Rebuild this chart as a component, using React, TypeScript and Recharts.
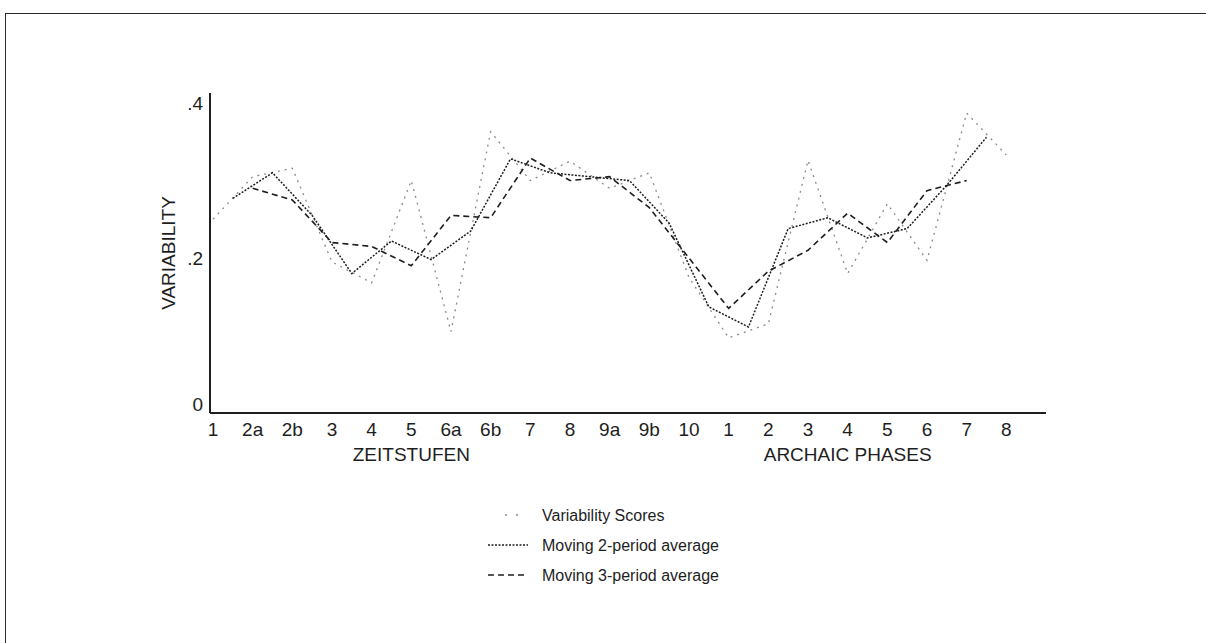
import React from 'react';
import { LineChart, Line, XAxis, YAxis, Legend } from 'recharts';

// Period labels along the x-axis (Zeitstufen followed by Archaic phases)
const categories = ['1', '2a', '2b', '3', '4', '5', '6a', '6b', '7', '8', '9a', '9b', '10', '1', '2', '3', '4', '5', '6', '7', '8'];
const groupTicks = [5, 16];
const groupLabels = ['ZEITSTUFEN', 'ARCHAIC PHASES'];
const yTicks = [0, 0.2, 0.4];
const yTickLabels = ['0', '.2', '.4'];

// Variability score per period
const scores = [0.25, 0.305, 0.316, 0.195, 0.168, 0.3, 0.105, 0.363, 0.3, 0.325, 0.29, 0.31, 0.175, 0.097, 0.115, 0.326, 0.18, 0.27, 0.197, 0.387, 0.333];
// Moving 2-period average (between consecutive periods)
const movingAvg2 = [0.277, 0.31, 0.255, 0.18, 0.222, 0.198, 0.235, 0.328, 0.31, 0.305, 0.3, 0.245, 0.137, 0.111, 0.238, 0.252, 0.226, 0.238, 0.294, 0.356];
// Moving 3-period average (centred, periods 2..20)
const movingAvg3 = [0.29, 0.275, 0.22, 0.215, 0.19, 0.255, 0.252, 0.329, 0.3, 0.305, 0.265, 0.2, 0.135, 0.183, 0.21, 0.258, 0.22, 0.287, 0.3];

const legendLabels = ['Variability Scores', 'Moving 2-period average', 'Moving 3-period average'];

const scoreData = scores.map((v, i) => ({ x: i, v }));
const avg2Data = movingAvg2.map((v, i) => ({ x: i + 0.5, v }));
const avg3Data = movingAvg3.map((v, i) => ({ x: i + 1, v }));

const INK = '#1e1e1e';
const FONT = '"Liberation Sans", Arial, Helvetica, sans-serif';

const YTick = (props: any) => {
  const { x, y, payload } = props;
  const idx = yTicks.indexOf(payload.value);
  const shift = payload.value === 0 ? -9 : 0;
  return (
    <text x={x} y={y + shift} dy="0.35em" textAnchor="end" fontSize={19} fill={INK}>
      {yTickLabels[idx]}
    </text>
  );
};

const renderLegend = () => (
  <svg width={320} height={95} style={{ display: 'block' }}>
    <line x1={20} y1={15} x2={36} y2={15} stroke="#8a8a8a" strokeWidth={1.3} strokeDasharray="2 9" />
    <text x={57} y={15} dy="0.35em" fontSize={16} fill={INK}>{legendLabels[0]}</text>
    <line x1={3} y1={45} x2={43} y2={45} stroke={INK} strokeWidth={1.4} strokeDasharray="2 1.5" />
    <text x={57} y={45} dy="0.35em" fontSize={16} fill={INK}>{legendLabels[1]}</text>
    <line x1={3} y1={75} x2={43} y2={75} stroke={INK} strokeWidth={1.6} strokeDasharray="6 4" />
    <text x={57} y={75} dy="0.35em" fontSize={16} fill={INK}>{legendLabels[2]}</text>
  </svg>
);

export default function App() {
  return (
    <div style={{ position: 'absolute', left: 0, top: 0, width: 1206, height: 643, background: '#fff', fontFamily: FONT, overflow: 'hidden' }}>
      <div
        style={{
          position: 'absolute',
          left: 5,
          top: 13,
          width: 1201,
          height: 630,
          boxSizing: 'border-box',
          borderTop: '1.5px solid #2a2a2a',
          borderLeft: '1.5px solid #2a2a2a',
        }}
      />
      <div style={{ position: 'absolute', left: 0, top: 0 }}>
        <LineChart width={1100} height={480} margin={{ top: 93, right: 54, left: 150, bottom: 7 }}>
          <XAxis
            xAxisId="cat"
            type="number"
            dataKey="x"
            domain={[-0.075, 21]}
            ticks={categories.map((_, i) => i)}
            tickFormatter={(v: number) => categories[v]}
            interval={0}
            tickLine={false}
            tickSize={0}
            tickMargin={10}
            height={30}
            axisLine={{ stroke: INK, strokeWidth: 2 }}
            tick={{ fill: INK, fontSize: 19 }}
            allowDataOverflow
          />
          <XAxis
            xAxisId="grp"
            type="number"
            dataKey="x"
            domain={[-0.075, 21]}
            ticks={groupTicks}
            tickFormatter={(v: number) => groupLabels[groupTicks.indexOf(v)]}
            interval={0}
            axisLine={false}
            tickLine={false}
            tickSize={0}
            tickMargin={5}
            height={30}
            tick={{ fill: INK, fontSize: 19 }}
            allowDataOverflow
          />
          <YAxis
            type="number"
            domain={[0, 0.413]}
            ticks={yTicks}
            interval={0}
            width={60}
            tickLine={false}
            tickSize={0}
            tickMargin={7}
            axisLine={{ stroke: INK, strokeWidth: 2 }}
            tick={<YTick />}
            allowDataOverflow
            label={{
              value: 'VARIABILITY',
              angle: -90,
              position: 'insideLeft',
              offset: 18,
              style: { textAnchor: 'middle', fontSize: 19, fill: INK },
            }}
          />
          <Legend
            layout="vertical"
            align="center"
            verticalAlign="middle"
            wrapperStyle={{ left: 485, top: 500, width: 320 }}
            content={renderLegend}
          />
          {/* invisible carrier series so the group-label axis is laid out */}
          <Line
            xAxisId="grp"
            data={scoreData}
            dataKey="v"
            type="linear"
            stroke="none"
            strokeOpacity={0}
            dot={false}
            activeDot={false}
            legendType="none"
            isAnimationActive={false}
          />
          <Line
            xAxisId="cat"
            data={scoreData}
            dataKey="v"
            type="linear"
            stroke="#8a8a8a"
            strokeWidth={1.3}
            strokeDasharray="2 5"
            dot={false}
            isAnimationActive={false}
            name={legendLabels[0]}
          />
          <Line
            xAxisId="cat"
            data={avg2Data}
            dataKey="v"
            type="linear"
            stroke={INK}
            strokeWidth={1.5}
            strokeDasharray="2 1.5"
            dot={false}
            isAnimationActive={false}
            name={legendLabels[1]}
          />
          <Line
            xAxisId="cat"
            data={avg3Data}
            dataKey="v"
            type="linear"
            stroke={INK}
            strokeWidth={1.6}
            strokeDasharray="6 4"
            dot={false}
            isAnimationActive={false}
            name={legendLabels[2]}
          />
        </LineChart>
      </div>
    </div>
  );
}
